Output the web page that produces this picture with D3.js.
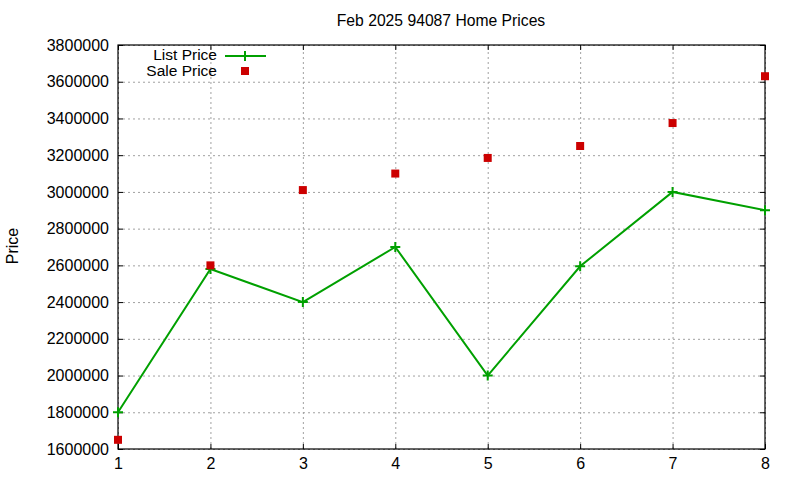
<!DOCTYPE html>
<html>
<head>
<meta charset="utf-8">
<script src="https://cdn.jsdelivr.net/npm/d3@7"></script>
<style>
  body { margin: 0; background: #fff; }
  svg { font-family: "Liberation Sans", Arial, sans-serif; }
</style>
</head>
<body>
<svg id="chart"></svg>
<script>
// data
const months = [1, 2, 3, 4, 5, 6, 7, 8];
const listPrice = [1800000, 2580000, 2400000, 2700000, 2000000, 2595000, 3000000, 2900000];
const salePrice = [1650000, 2600000, 3010000, 3100000, 3185000, 3250000, 3375000, 3630000];
const yTicks = [1600000, 1800000, 2000000, 2200000, 2400000, 2600000, 2800000, 3000000, 3200000, 3400000, 3600000, 3800000];
const title = "Feb 2025 94087 Home Prices";

const width = 800, height = 480;
const plotLeft = 118, plotRight = 765, plotTop = 45, plotBottom = 449;
const green = "#00a000", red = "#cc0000";

const svg = d3.select("#chart").attr("width", width).attr("height", height);

const x = d3.scaleLinear().domain([1, 8]).range([plotLeft, plotRight]);
const y = d3.scaleLinear().domain([1600000, 3800000]).range([plotBottom, plotTop]);

// grid
svg.append("g")
    .attr("transform", "translate(0," + plotBottom + ")")
    .call(d3.axisBottom(x).tickValues(months).tickSize(-(plotBottom - plotTop)).tickFormat(""))
    .call(g => g.select(".domain").remove())
    .selectAll("line").attr("stroke", "#a0a0a0").attr("stroke-dasharray", "2,3");
svg.append("g")
    .attr("transform", "translate(" + plotLeft + ",0)")
    .call(d3.axisLeft(y).tickValues(yTicks).tickSize(-(plotRight - plotLeft)).tickFormat(""))
    .call(g => g.select(".domain").remove())
    .selectAll("line").attr("stroke", "#a0a0a0").attr("stroke-dasharray", "2,3");

// axes with inward ticks, mirrored
function styleAxis(g) {
    g.select(".domain").remove();
    g.selectAll("line").attr("stroke", "#000");
    g.selectAll("text").attr("fill", "#000").style("font-size", "16px");
}
svg.append("g")
    .attr("transform", "translate(0," + plotBottom + ")")
    .call(d3.axisBottom(x).tickValues(months).tickSize(-5).tickPadding(9).tickFormat(d3.format("d")))
    .call(styleAxis);
svg.append("g")
    .attr("transform", "translate(0," + plotTop + ")")
    .call(d3.axisTop(x).tickValues(months).tickSize(-5).tickFormat(""))
    .call(styleAxis);
svg.append("g")
    .attr("transform", "translate(" + plotLeft + ",0)")
    .call(d3.axisLeft(y).tickValues(yTicks).tickSize(-5).tickPadding(9).tickFormat(d3.format("d")))
    .call(styleAxis);
svg.append("g")
    .attr("transform", "translate(" + plotRight + ",0)")
    .call(d3.axisRight(y).tickValues(yTicks).tickSize(-5).tickFormat(""))
    .call(styleAxis);

svg.append("rect")
    .attr("x", plotLeft).attr("y", plotTop)
    .attr("width", plotRight - plotLeft).attr("height", plotBottom - plotTop)
    .attr("fill", "none").attr("stroke", "#000").attr("stroke-width", 1.2);

// list price line
const line = d3.line().x((d, i) => x(months[i])).y(d => y(d));
svg.append("path")
    .datum(listPrice)
    .attr("fill", "none")
    .attr("stroke", green)
    .attr("stroke-width", 2)
    .attr("d", line);

function plus(g, cx, cy) {
    g.append("path")
        .attr("d", "M" + (cx - 5) + "," + cy + "H" + (cx + 5) + "M" + cx + "," + (cy - 5) + "V" + (cy + 5))
        .attr("stroke", green).attr("stroke-width", 2);
}
const pts = svg.append("g");
listPrice.forEach((d, i) => plus(pts, x(months[i]), y(d)));

// sale price squares
svg.append("g").selectAll("rect")
    .data(salePrice)
    .join("rect")
    .attr("x", (d, i) => x(months[i]) - 4)
    .attr("y", d => y(d) - 4)
    .attr("width", 8).attr("height", 8)
    .attr("fill", red);

// title and label
svg.append("text")
    .attr("x", 441).attr("y", 26)
    .attr("text-anchor", "middle")
    .style("font-size", "15.7px")
    .text(title);
svg.append("text")
    .attr("transform", "translate(18,246)rotate(-90)")
    .attr("text-anchor", "middle")
    .style("font-size", "16px")
    .text("Price");

// legend
const legend = svg.append("g").style("font-size", "15.5px");
legend.append("text").attr("x", 217).attr("y", 60).attr("text-anchor", "end").text("List Price");
legend.append("line").attr("x1", 225).attr("x2", 266).attr("y1", 56).attr("y2", 56)
    .attr("stroke", green).attr("stroke-width", 2);
plus(legend, 245, 56);
legend.append("text").attr("x", 217).attr("y", 76).attr("text-anchor", "end").text("Sale Price");
legend.append("rect").attr("x", 241).attr("y", 67).attr("width", 8).attr("height", 8).attr("fill", red);
</script>
</body>
</html>
